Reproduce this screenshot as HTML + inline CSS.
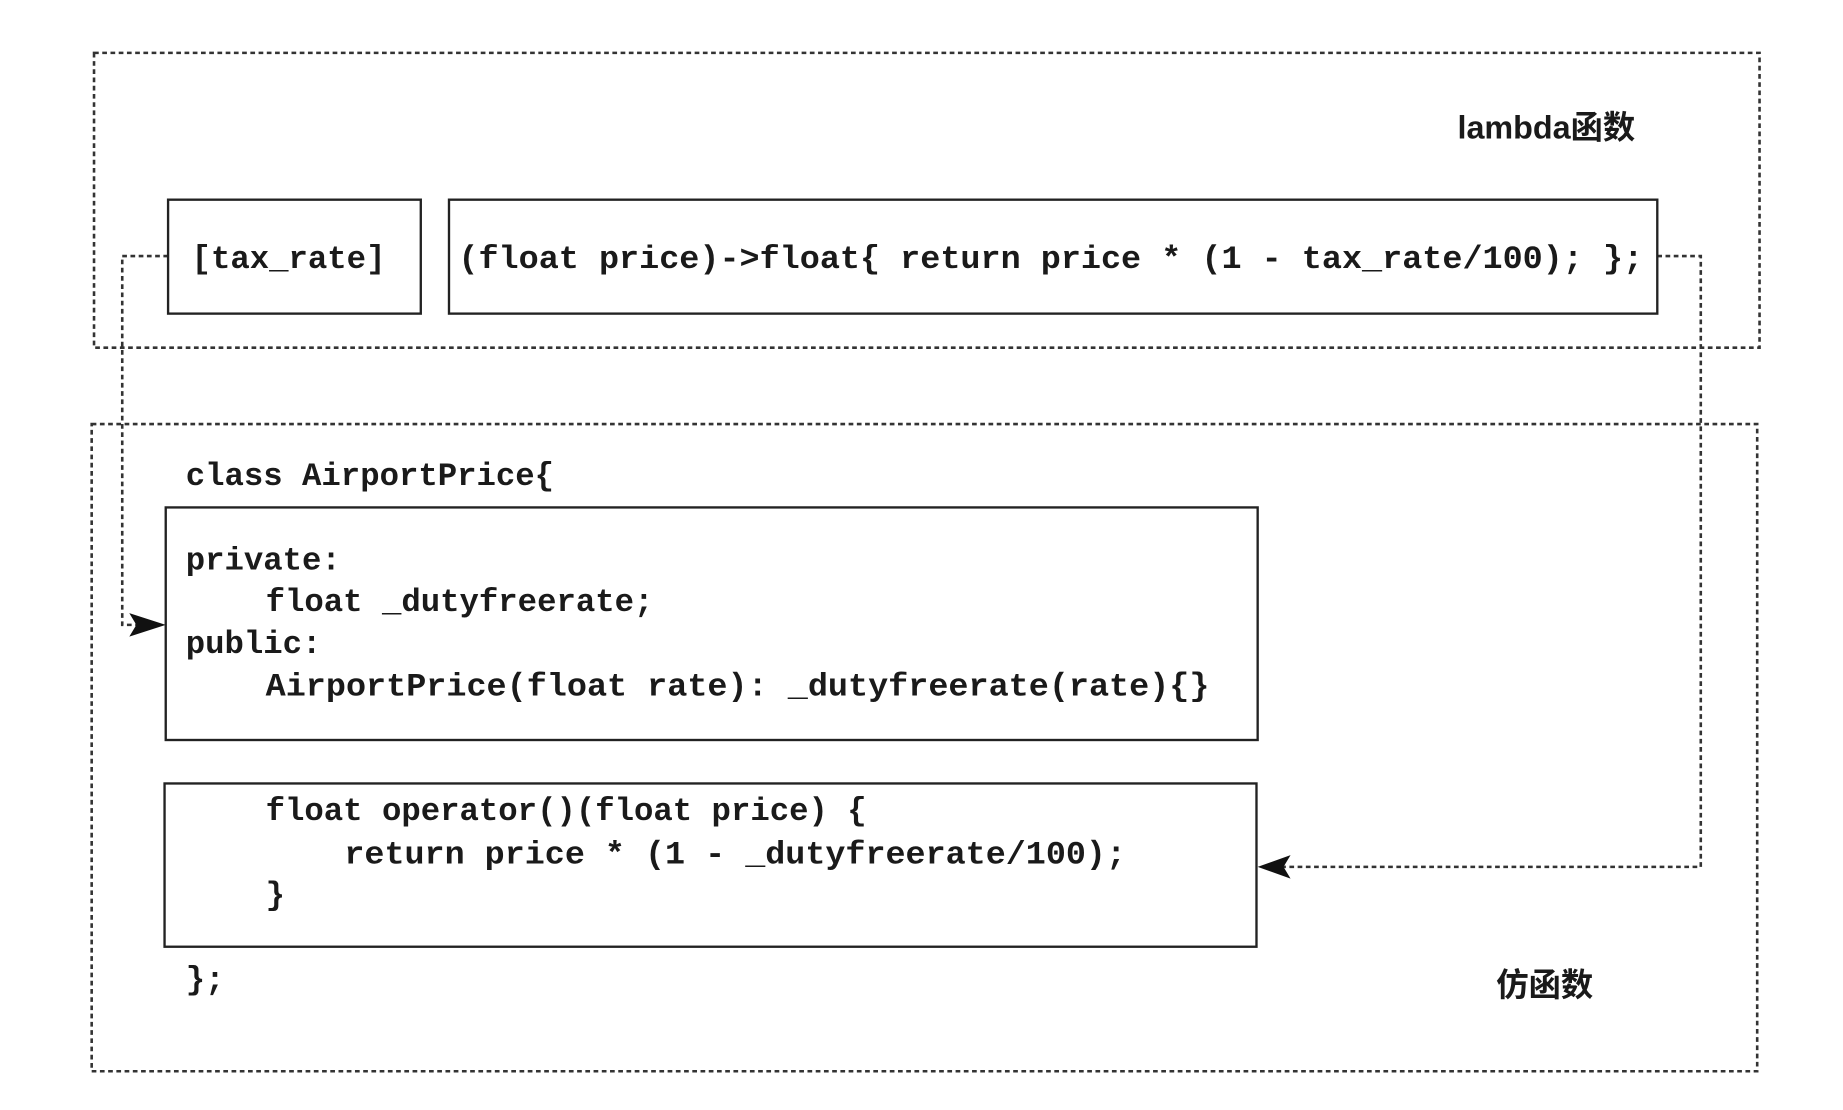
<!DOCTYPE html>
<html><head><meta charset="utf-8"><style>
html,body{margin:0;padding:0;background:#fff;}
svg{display:block;}
text{font-family:"Liberation Mono","Noto Sans CJK SC",monospace;font-weight:bold;fill:#1a1a1a;font-size:27.5px;}
.cj{font-family:"Liberation Sans","Noto Sans CJK SC",sans-serif;font-weight:bold;}
</style></head><body>
<svg width="1843" height="1110" viewBox="0 0 1568 945" preserveAspectRatio="none" xmlns="http://www.w3.org/2000/svg">
<rect width="1568" height="945" fill="#fff"/>
<g fill="none" stroke="#333" stroke-width="2.2" stroke-dasharray="4,3">
<rect x="80" y="45" width="1417" height="251"/>
<rect x="78" y="361" width="1417" height="551"/>
<polyline points="143,218 104,218 104,532 128,532"/>
<polyline points="1410,218 1447,218 1447,738 1085,738"/>
</g>
<g fill="none" stroke="#222" stroke-width="2">
<rect x="143" y="170" width="215" height="97"/>
<rect x="382" y="170" width="1028" height="97"/>
<rect x="141" y="432" width="929" height="198"/>
<rect x="140" y="667" width="929" height="139"/>
</g>
<polygon points="141,532 110,522 116,532 110,542" fill="#111"/>
<polygon points="1070,738 1098,728 1092,738 1098,748" fill="#111"/>
<text class="cj" x="1240" y="118" font-size="26">lambda函数</text>
<text x="163" y="228">[tax_rate]</text>
<text x="390" y="228" textLength="1008" lengthAdjust="spacingAndGlyphs">(float price)-&gt;float{ return price * (1 - tax_rate/100); };</text>
<text x="158" y="413">class AirportPrice{</text>
<text x="158" y="485">private:</text>
<text x="226" y="520">float _dutyfreerate;</text>
<text x="158" y="556">public:</text>
<text x="226" y="592" textLength="803" lengthAdjust="spacingAndGlyphs">AirportPrice(float rate): _dutyfreerate(rate){}</text>
<text x="226" y="698">float operator()(float price) {</text>
<text x="293" y="735" textLength="665" lengthAdjust="spacingAndGlyphs">return price * (1 - _dutyfreerate/100);</text>
<text x="226" y="770">}</text>
<text x="158" y="842">};</text>
<text class="cj" x="1273" y="848" font-size="26">仿函数</text>
</svg>
</body></html>
